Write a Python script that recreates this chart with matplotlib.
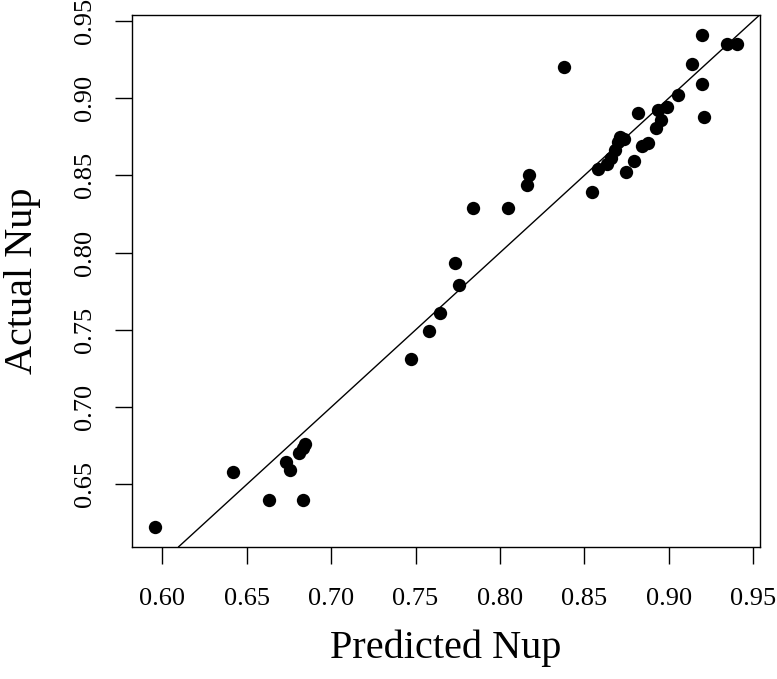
import matplotlib
matplotlib.use("Agg")
import matplotlib.pyplot as plt
import numpy as np

predicted = [0.5957, 0.6420, 0.6631, 0.6835, 0.6730, 0.6754, 0.6809, 0.6831, 0.6848,
             0.7475, 0.7577, 0.7647, 0.7759, 0.7736, 0.7843, 0.8049, 0.8159, 0.8173,
             0.8380, 0.8545, 0.8583, 0.8634, 0.8658, 0.8681, 0.8699, 0.8711, 0.8735,
             0.8746, 0.8795, 0.8839, 0.8876, 0.8924, 0.8956, 0.8937, 0.8989, 0.8819,
             0.9054, 0.9135, 0.9197, 0.9197, 0.9209, 0.9345, 0.9402]
actual = [0.6225, 0.6584, 0.6399, 0.6399, 0.6647, 0.6597, 0.6705, 0.6733, 0.6765,
          0.7314, 0.7493, 0.7611, 0.7792, 0.7931, 0.8289, 0.8289, 0.8438, 0.8503,
          0.9198, 0.8393, 0.8541, 0.8574, 0.8612, 0.8664, 0.8716, 0.8751, 0.8735,
          0.8524, 0.8590, 0.8687, 0.8709, 0.8806, 0.8858, 0.8922, 0.8944, 0.8901,
          0.9018, 0.9220, 0.9410, 0.9089, 0.8879, 0.9352, 0.9352]
ticks = [0.60, 0.65, 0.70, 0.75, 0.80, 0.85, 0.90, 0.95]
yticks = [0.65, 0.70, 0.75, 0.80, 0.85, 0.90, 0.95]
xlabel = "Predicted Nup"
ylabel = "Actual Nup"

plt.rcParams['font.family'] = ['Liberation Serif', 'DejaVu Serif']

fig = plt.figure(figsize=(7.77, 6.79), dpi=100)
ax = fig.add_axes([131.7/777, 1-546.7/679, (760-131.7)/777, (546.7-15)/679])

ax.plot(predicted, actual, 'o', color='black', markersize=9.6, markeredgewidth=0)

def ext(v):
    lo, hi = min(v), max(v)
    r = hi - lo
    return lo - 0.04*r, hi + 0.04*r

xl = ext(predicted)
yl = ext(actual)
ax.set_xlim(*xl)
ax.set_ylim(*yl)
ax.axline((0.6, 0.6), slope=1, color='black', lw=1.0)

ax.set_xticks(ticks)
ax.set_xticklabels([f"{t:.2f}" for t in ticks])
ax.set_yticks(yticks)
ax.set_yticklabels([f"{t:.2f}" for t in yticks], rotation=90, va='center')
ax.tick_params(axis='both', direction='out', length=12, width=1.0, labelsize=19)
ax.tick_params(axis='x', pad=18)
ax.tick_params(axis='y', pad=13.8)
for s in ax.spines.values():
    s.set_linewidth(1.0)
ax.set_xlabel(xlabel, fontsize=29, labelpad=14)
ax.set_ylabel(ylabel, fontsize=29, labelpad=24)

fig.savefig("out.png", dpi=100)
